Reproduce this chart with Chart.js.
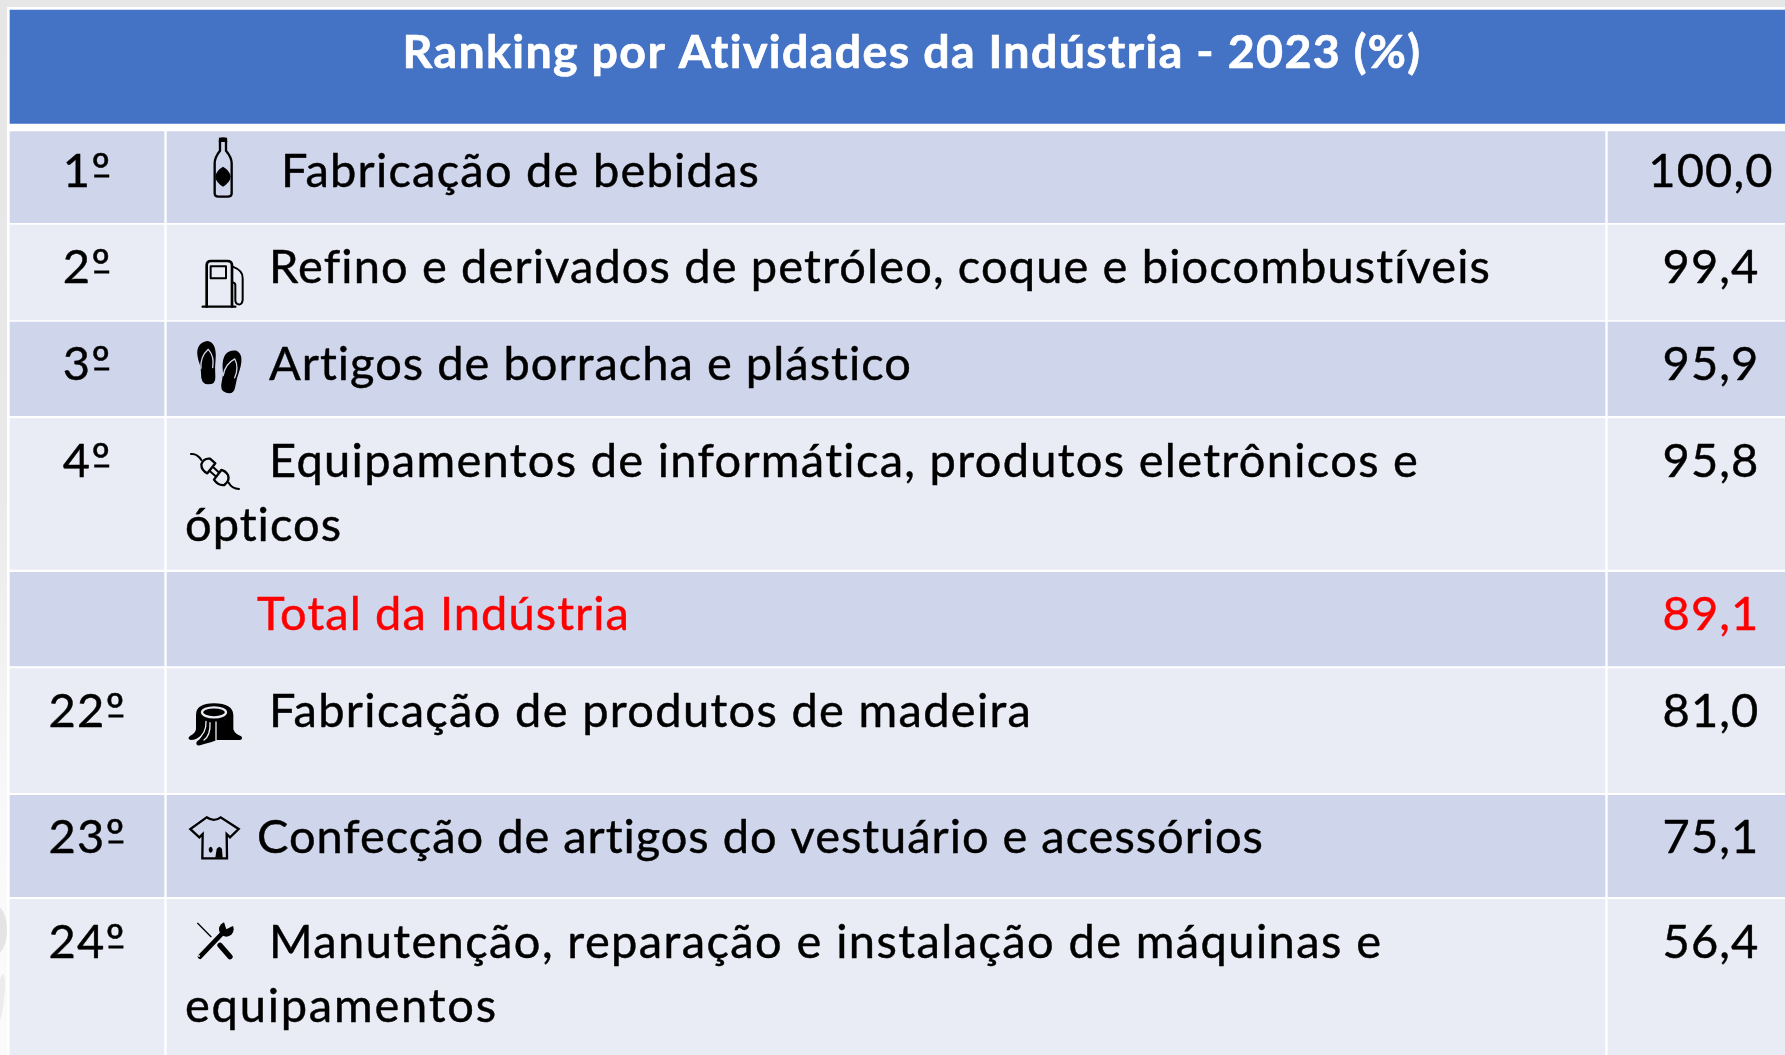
<!DOCTYPE html>
<html lang="pt"><head><meta charset="utf-8">
<style>html,body{margin:0;padding:0;background:#fff;overflow:hidden}canvas{display:block}</style>
<script src="https://cdn.jsdelivr.net/npm/chart.js@4"></script>
</head><body><canvas id="c" width="1785" height="1055"></canvas>
<script>
// ---- content ----
const TITLE = 'Ranking por Atividades da Indústria - 2023 (%)';
const RANKS = ['1º','2º','3º','4º','','22º','23º','24º'];
const ACTIVITIES = [
  ['Fabricação de bebidas'],
  ['Refino e derivados de petróleo, coque e biocombustíveis'],
  ['Artigos de borracha e plástico'],
  ['Equipamentos de informática, produtos eletrônicos e','ópticos'],
  ['Total da Indústria'],
  ['Fabricação de produtos de madeira'],
  ['Confecção de artigos do vestuário e acessórios'],
  ['Manutenção, reparação e instalação de máquinas e','equipamentos']
];
const VALUES = [100.0,99.4,95.9,95.8,89.1,81.0,75.1,56.4];
const HIGHLIGHT_ROW = 4;
// ---- layout ----
const W=1785,H=1055;
const COLUMN_EDGES=[[10,164],[167,1605],[1608,1785]];
const HEADER_EDGES=[10,123.3];
const ROW_EDGES=[[131.5,222.7],[225,320],[322,415.7],[418.7,569.3],[572.3,666],[668.7,792.7],[795.3,896.7],[899.3,1055]];
const ROW_BASELINES=[187,283,380,477,630,727,853,958];
const SECOND_LINE_BASELINES={3:541,7:1022};
const TEXT_X=[281,269,269,269,257,269,257,269];
const LINE_WIDTHS=[[478],[1221],[642],[1149,156],[372],[762],[1006],[1112,311]];
const WRAP_X=185, RANK_CX=87, VALUE_CX=1711;
const FONT='Lato', FONT_SIZE=47, TITLE_SIZE=46.5, SPACING='1.15px', TITLE_SPACING='1.37px';
const TEXT_WEIGHT=.45, TITLE_WEIGHT=.7;
const ODD='#CFD5EA',EVEN='#E9EBF5',HEAD='#4472C4';

// icon drawers work in a local box scaled 3:1
const ICONS=[
 {ox:180,oy:130,draw(c,bg){
  c.lineWidth=7;c.fill(new Path2D('M117,23 Q129,20 141,23 L142,36 L116,36 Z'));
  c.stroke(new Path2D('M120,35 L120,62 Q104,82 104,100 L104,190 Q104,200 116,200 L143,200 Q155,200 155,190 L155,100 Q155,82 138,62 L138,35'));
  c.fill(new Path2D('M129,110 Q150,122 152,140 Q150,157 129,170 Q108,157 106,140 Q108,122 129,110 Z'));
 }},
 {ox:180,oy:250,draw(c,bg){
  c.lineWidth=8;c.stroke(new Path2D('M80,170 L80,46 Q80,33 93,33 L142,33 Q156,33 156,46 L156,170'));
  c.lineWidth=7;c.stroke(new Path2D('M68,170 L166,170'));
  c.lineWidth=6;c.strokeRect(92,49,46,36);
  c.stroke(new Path2D('M158,50 Q190,62 188,85 L188,150 Q186,165 175,163 Q165,160 166,148 L166,105 Q166,98 156,97'));
 }},
 {ox:180,oy:335,draw(c,bg){
  const sole=new Path2D('M82,18 Q110,22 107,70 Q104,95 106,125 Q108,148 84,148 Q62,148 63,115 Q64,95 55,75 Q42,25 82,18 Z');
  const strap=new Path2D('M63,100 Q60,65 85,43 Q104,65 98,98');
  const one=()=>{c.fill(sole);c.strokeStyle=bg;c.lineWidth=4;c.stroke(strap);c.strokeStyle='#000';};
  one();
  c.save();c.translate(152,110);c.rotate(.24);c.translate(-82,-83);one();c.restore();
 }},
 {ox:180,oy:440,draw(c,bg){
  c.lineWidth=6;
  c.stroke(new Path2D('M33,42 Q52,40 64,60'));
  c.stroke(new Path2D('M146,128 Q156,146 177,147'));
  c.lineWidth=7;
  c.stroke(new Path2D('M106,70 L82,100 Q64,92 64,73 Q70,54 90,56 Z'));
  c.stroke(new Path2D('M124,90 L102,119 Q115,138 133,135 Q150,122 144,105 Q136,92 124,90 Z'));
  c.lineWidth=6;
  c.stroke(new Path2D('M100,82 L116,97 M90,94 L107,109'));
 }},
 {ox:180,oy:690,draw(c,bg){
  c.fill(new Path2D('M48,75 Q48,40 102,40 Q158,40 160,75 L160,118 Q165,133 184,139 Q190,150 178,150 L118,150 L110,150 Q100,155 60,166 Q46,168 50,155 Q62,148 66,135 Q50,150 32,150 Q20,146 30,138 Q46,130 48,118 Z'));
  c.strokeStyle=bg;c.lineWidth=7;c.beginPath();c.ellipse(102,67,36,15,0,0,7);c.stroke();
  c.lineWidth=4;c.stroke(new Path2D('M78,94 Q80,130 50,150 M108,96 L108,150 M90,98 Q92,135 72,150'));
  c.strokeStyle='#000';
 }},
 {ox:180,oy:805,draw(c,bg){
  c.lineWidth=7;c.lineJoin='miter';
  c.stroke(new Path2D('M80,37 Q102,52 122,37 L176,72 L150,97 L140,87 L141,160 L67,160 L68,87 L58,97 L31,72 Z'));
  c.fill(new Path2D('M86,132 Q92,118 98,132 Q98,142 92,143 Q86,142 86,132 Z'));
  c.fill(new Path2D('M106,158 L110,132 Q118,120 126,132 L128,158 Z'));
 }},
 {ox:180,oy:910,draw(c,bg){
  c.lineCap='round';
  c.lineWidth=4;c.stroke(new Path2D('M53,40 L93,80'));
  c.lineWidth=16;c.stroke(new Path2D('M120,106 L150,140'));
  c.lineWidth=14;c.stroke(new Path2D('M60,140 L125,72'));
  c.beginPath();c.arc(139,58,22,0,7);c.fill();
  c.fillStyle=bg;c.beginPath();c.moveTo(139,58);c.lineTo(170,42);c.lineTo(128,24);c.closePath();c.fill();
  c.beginPath();c.arc(57,138,3,0,7);c.fill();c.fillStyle='#000';
 }}
];
// icon index → table row (Total row has no icon)
const ICON_ROWS=[0,1,2,3,5,6,7];

const backdrop={id:'backdrop',beforeDraw(ch){
  const c=ch.ctx;c.save();
  c.fillStyle='#fff';c.fillRect(0,0,W,H);
  c.fillStyle='#e7e7e7';c.fillRect(0,0,W,7);
  const g=c.createLinearGradient(0,0,0,H);
  g.addColorStop(0,'#e6e6e6');g.addColorStop(.45,'#e9e9e9');g.addColorStop(.62,'#f2f2f3');g.addColorStop(.78,'#f9f9fb');g.addColorStop(1,'#fbfbfc');
  c.fillStyle=g;c.fillRect(0,0,7,H);
  c.fillStyle='#e4e4e4';c.beginPath();c.ellipse(-4,930,11,24,0,0,7);c.fill();
  c.fillStyle='#ececec';c.beginPath();c.ellipse(0,1000,4,26,.12,0,7);c.fill();
  c.restore();
}};
function put(c,t,x,y,weight){c.fillText(t,x,y);c.lineWidth=weight;c.strokeStyle=c.fillStyle;c.lineJoin='round';c.strokeText(t,x,y);}
function putFit(c,t,x,y,target){
  c.letterSpacing='0.001px';
  const natural=c.measureText(t).width;
  c.letterSpacing=((target-natural)/(t.length-1)).toFixed(3)+'px';
  put(c,t,x,y,TEXT_WEIGHT);
  c.letterSpacing=SPACING;
}
const tableText={id:'tableText',afterDatasetsDraw(ch){
  const c=ch.ctx,sx=ch.scales.x,sy=ch.scales.y;
  c.save();c.textBaseline='alphabetic';
  c.fillStyle='#fff';c.font=`bold ${TITLE_SIZE}px ${FONT}`;c.textAlign='center';c.letterSpacing=TITLE_SPACING;
  put(c,TITLE,sx.getPixelForValue(912),sy.getPixelForValue(68),TITLE_WEIGHT);
  c.font=`${FONT_SIZE}px ${FONT}`;c.letterSpacing=SPACING;
  VALUES.forEach((v,i)=>{
    c.fillStyle=i===HIGHLIGHT_ROW?'#FF0000':'#000';
    const by=sy.getPixelForValue(ROW_BASELINES[i]);
    c.textAlign='center';
    if(RANKS[i]){
      const cx=sx.getPixelForValue(RANK_CX);
      put(c,RANKS[i],cx,by,TEXT_WEIGHT);
      // the ordinal sign is underlined in the reference's typeface
      const tw=c.measureText(RANKS[i]).width;
      c.fillRect(cx+tw/2-17,by-12.5,15,3);
    }
    put(c,v.toFixed(1).replace('.',','),sx.getPixelForValue(VALUE_CX),by,TEXT_WEIGHT);
    c.textAlign='left';
    putFit(c,ACTIVITIES[i][0],sx.getPixelForValue(TEXT_X[i]),by,LINE_WIDTHS[i][0]);
    if(ACTIVITIES[i][1])putFit(c,ACTIVITIES[i][1],sx.getPixelForValue(WRAP_X),sy.getPixelForValue(SECOND_LINE_BASELINES[i]),LINE_WIDTHS[i][1]);
  });
  ICONS.forEach((ic,k)=>{
    c.save();c.translate(sx.getPixelForValue(ic.ox),sy.getPixelForValue(ic.oy));c.scale(1/3,1/3);
    c.strokeStyle='#000';c.fillStyle='#000';c.lineJoin='round';c.lineCap='round';
    ic.draw(c,ICON_ROWS[k]%2?EVEN:ODD);c.restore();
  });
  c.restore();
}};

const datasets=[{
  label:'header',
  data:[{x:[HEADER_EDGES[0],W],y:(HEADER_EDGES[0]+HEADER_EDGES[1])/2}],
  backgroundColor:HEAD,barThickness:HEADER_EDGES[1]-HEADER_EDGES[0],
  grouped:false,borderWidth:0,borderSkipped:false
}].concat(VALUES.map((v,i)=>({
  label:ACTIVITIES[i].join(' '),
  data:COLUMN_EDGES.map(e=>({x:[e[0],e[1]],y:(ROW_EDGES[i][0]+ROW_EDGES[i][1])/2})),
  backgroundColor:i%2?EVEN:ODD,barThickness:ROW_EDGES[i][1]-ROW_EDGES[i][0],
  grouped:false,borderWidth:0,borderSkipped:false
})));

new Chart(document.getElementById('c'),{
  type:'bar',
  data:{datasets},
  options:{
    indexAxis:'y',responsive:false,animation:false,devicePixelRatio:1,
    layout:{padding:0},
    plugins:{legend:{display:false},tooltip:{enabled:false},title:{display:false}},
    scales:{
      x:{type:'linear',min:0,max:W,display:false,grid:{display:false}},
      y:{type:'linear',min:0,max:H,reverse:true,display:false,grid:{display:false},offset:false}
    }
  },
  plugins:[backdrop,tableText]
});
</script></body></html>
